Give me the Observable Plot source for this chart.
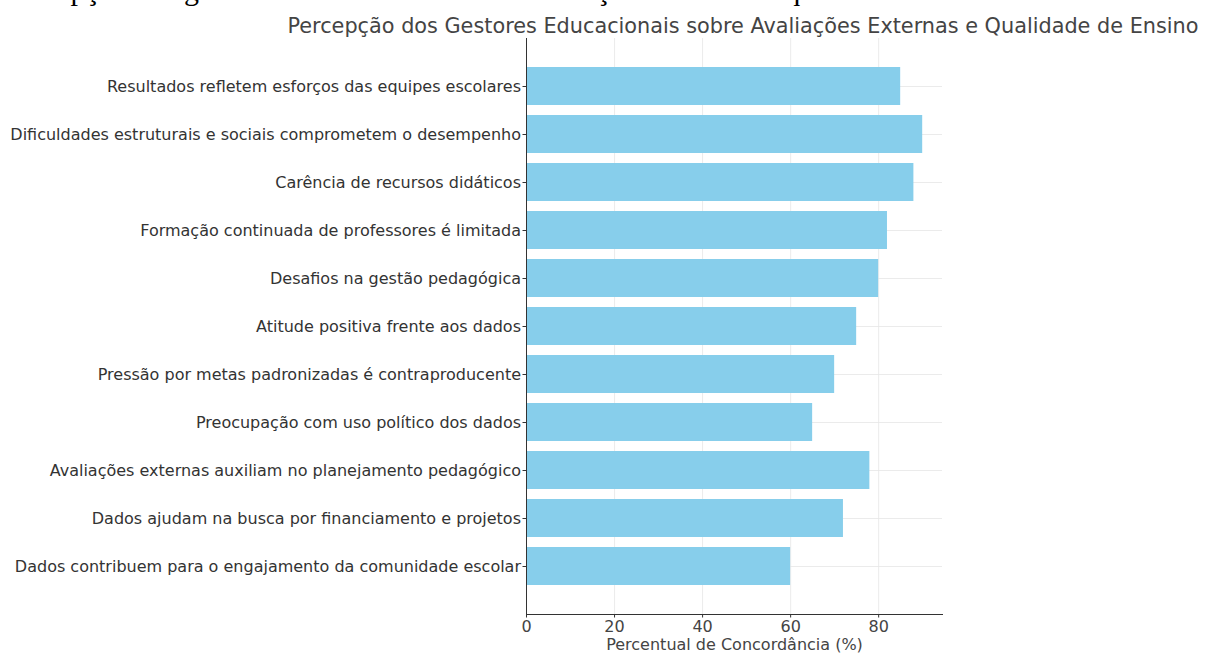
<!DOCTYPE html>
<html>
<head>
<meta charset="utf-8">
<script src="https://cdn.jsdelivr.net/npm/d3@7"></script>
<script src="https://cdn.jsdelivr.net/npm/@observablehq/plot@0.6"></script>
<style>
  html, body { margin: 0; padding: 0; background: white; }
  #wrap { position: relative; width: 1213px; height: 657px; overflow: hidden; }
  #cut { position: absolute; left: 4px; top: -27px; white-space: nowrap; font-family: "Liberation Serif", serif; font-size: 30px; color: #000; }
  #title { position: absolute; left: 0; width: 1486px; top: 14px; text-align: center; white-space: nowrap; font-family: "DejaVu Sans", sans-serif; font-size: 20.8px; color: #444; }
  #chart { position: absolute; left: 0; top: 38px; }
</style>
</head>
<body>
<div id="wrap">
  <div id="cut">Percepção dos gestores educacionais sobre avaliações externas e qualidade do ensino</div>
  <div id="title">Percepção dos Gestores Educacionais sobre Avaliações Externas e Qualidade de Ensino</div>
  <div id="chart"></div>
</div>
<script>
const categories = [
  "Resultados refletem esforços das equipes escolares",
  "Dificuldades estruturais e sociais comprometem o desempenho",
  "Carência de recursos didáticos",
  "Formação continuada de professores é limitada",
  "Desafios na gestão pedagógica",
  "Atitude positiva frente aos dados",
  "Pressão por metas padronizadas é contraproducente",
  "Preocupação com uso político dos dados",
  "Avaliações externas auxiliam no planejamento pedagógico",
  "Dados ajudam na busca por financiamento e projetos",
  "Dados contribuem para o engajamento da comunidade escolar"
];
const values = [85, 90, 88, 82, 80, 75, 70, 65, 78, 72, 60];
const xTicks = [0, 20, 40, 60, 80];
const xLabel = "Percentual de Concordância (%)";

const data = categories.map((c, i) => ({category: c, value: values[i]}));

const chart = Plot.plot({
  width: 1213,
  height: 619,
  marginLeft: 526,
  marginRight: 271,
  marginTop: 0,
  marginBottom: 43,
  style: {fontFamily: "DejaVu Sans, sans-serif", fontSize: "16px", color: "#333", background: "white", overflow: "visible"},
  x: {domain: [0, 94.5]},
  y: {domain: categories, paddingInner: 0.2, paddingOuter: 0.54},
  marks: [
    Plot.gridX(xTicks, {stroke: "#e6e6e6", strokeOpacity: 1, strokeWidth: 0.8}),
    Plot.gridY({stroke: "#e6e6e6", strokeOpacity: 1, strokeWidth: 0.8}),
    Plot.barX(data, {x: "value", y: "category", fill: "#87CEEB"}),
    Plot.ruleX([0], {stroke: "#333", strokeWidth: 1}),
    Plot.frame({anchor: "bottom", stroke: "#333", strokeWidth: 1}),
    Plot.axisX(xTicks, {tickSize: 3.5, tickPadding: 3, fontSize: 16, label: null, fill: "#444"}),
    Plot.axisY({tickSize: 3.5, tickPadding: 2, fontSize: 16, label: null, fill: "#333"}),
    Plot.text([xLabel], {frameAnchor: "bottom", dy: 35, fontSize: 16, fill: "#444"})
  ]
});
document.getElementById("chart").appendChild(chart);
</script>
</body>
</html>
